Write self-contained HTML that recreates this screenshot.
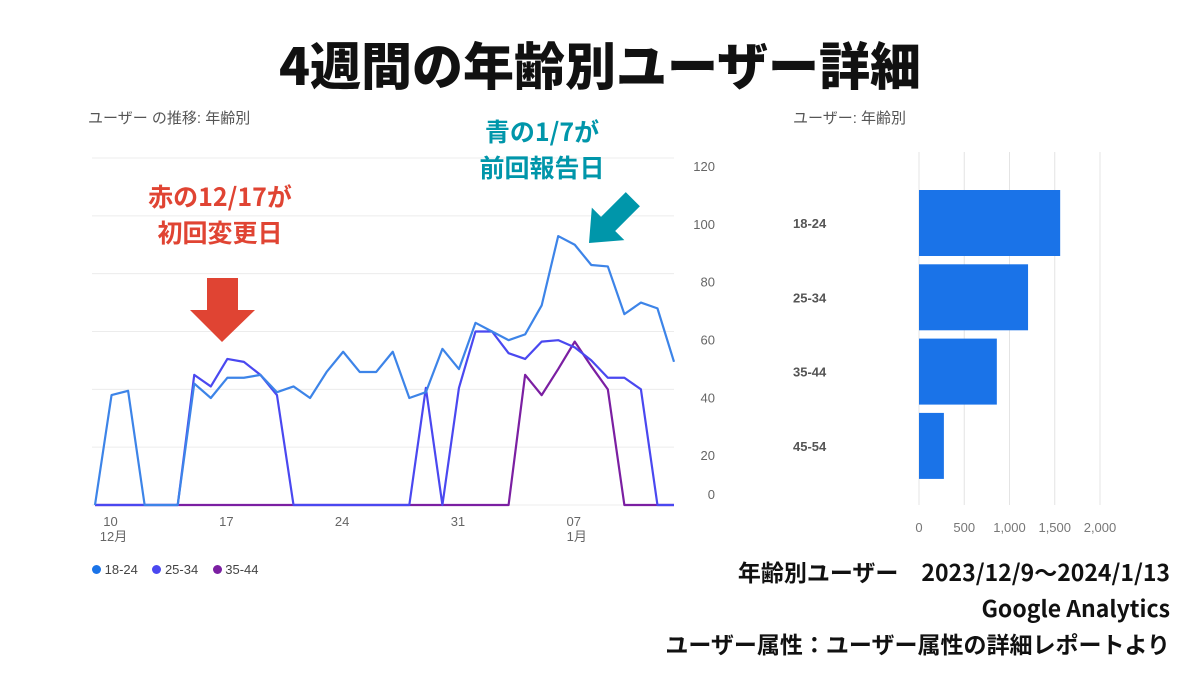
<!DOCTYPE html>
<html><head><meta charset="utf-8"><style>
body{margin:0;width:1200px;height:675px;background:#fff;overflow:hidden;font-family:"Liberation Sans","Noto Sans CJK JP",sans-serif;position:relative}
.t{position:absolute;white-space:nowrap}
</style></head><body>
<div class="t" style="left:0;width:1200px;text-align:center;top:30px;font-size:51px;font-weight:900;font-family:'Noto Sans CJK JP',sans-serif;color:#111;line-height:66px">4週間の年齢別ユーザー詳細</div>
<div class="t" style="left:88px;top:107px;font-size:15px;color:#555">ユーザー の推移: 年齢別</div>
<div class="t" style="left:793px;top:107px;font-size:15px;color:#555">ユーザー: 年齢別</div>
<svg id="svg" width="1200" height="675" style="position:absolute;left:0;top:0">
<g id="lc"></g><g id="bc"></g>
<polygon points="207,278 238,278 238,310 255,310 222,342 190,310 207,310" fill="#e04433"/>
<polygon points="-10,-62 10,-62 10,-27 23,-27 0,0 -23,-27 -10,-27" fill="#0096aa" transform="translate(589,243) rotate(45)"/>
</svg>
<div class="t" style="left:130px;top:178px;width:180px;text-align:center;font-size:25px;font-weight:bold;font-family:'Noto Sans CJK JP',sans-serif;color:#e04433;line-height:36px">赤の12/17が<br>初回変更日</div>
<div class="t" style="left:452px;top:113px;width:180px;text-align:center;font-size:25px;font-weight:bold;font-family:'Noto Sans CJK JP',sans-serif;color:#0096aa;line-height:36px">青の1/7が<br>前回報告日</div>
<div class="t" style="left:92px;top:562px;font-size:13px;color:#444">
<span><span style="display:inline-block;width:9px;height:9px;border-radius:50%;background:#1a73e8"></span> 18-24</span>&nbsp;&nbsp;&nbsp;
<span><span style="display:inline-block;width:9px;height:9px;border-radius:50%;background:#4a48f0"></span> 25-34</span>&nbsp;&nbsp;&nbsp;
<span><span style="display:inline-block;width:9px;height:9px;border-radius:50%;background:#7b1fa2"></span> 35-44</span></div>
<div class="t" style="right:30px;top:553px;text-align:right;font-size:23px;font-weight:bold;font-family:'Noto Sans CJK JP',sans-serif;color:#111;line-height:36px">年齢別ユーザー　2023/12/9～2024/1/13<br>Google Analytics<br>ユーザー属性：ユーザー属性の詳細レポートより</div>
<script>
const s1824=[0,38,39.5,0,0,0,42,37,44,44,45,39,41,37,46,53,46,46,53,37,39,54,47,63,60,57,59,69,93,90,83,82.5,66,70,68,49.5];
const s2534=[0,0,0,0,0,0,45,41,50.5,49.5,45,38,0,0,0,0,0,0,0,0,40.5,0,40.5,60,60,52.5,50.5,56.5,57,54.5,50,44,44,40,0,0];
const s3544=[0,0,0,0,0,0,0,0,0,0,0,0,0,0,0,0,0,0,0,0,0,0,0,0,0,0,45,38,47,56.5,48,40,0,0,0,0];
const yTicks=[0,20,40,60,80,100,120];
const xTickIdx=[1,8,15,22,29];
const xTickLabels=["10","17","24","31","07"];
const xTickSub=["12月","","","","1月"];
const barCats=["18-24","25-34","35-44","45-54"];
const barVals=[1560,1205,860,275];
const barTicks=[0,500,1000,1500,2000];
const NS="http://www.w3.org/2000/svg";
function mk(p,t,a){const e=document.createElementNS(NS,t);for(const k in a)e.setAttribute(k,a[k]);p.appendChild(e);return e;}
const lc=document.getElementById('lc'),bc=document.getElementById('bc');
const X=i=>95+i*(674-95)/35, Y=v=>505-v*(505-158)/120;
yTicks.forEach(v=>{
const l=mk(lc,'line',{x1:92,x2:674,y1:Y(v),y2:Y(v),stroke:'#ececec','stroke-width':1});


const t=mk(lc,'text',{x:715,y:v===0?Y(v)-6:Y(v)+13,'text-anchor':'end','font-size':13,fill:'#666'});
t.textContent=v;


});
xTickIdx.forEach((ix,k)=>{
const t=mk(lc,'text',{x:X(ix)-1,y:526,'font-size':13,fill:'#666','text-anchor':'middle'});
t.textContent=xTickLabels[k];


if(xTickSub[k]){const u=mk(lc,'text',{x:X(ix)+2,y:541,'font-size':13,fill:'#666','text-anchor':'middle'});u.textContent=xTickSub[k];

}
});
[[s3544,'#7b1fa2','line-35-44'],[s2534,'#4a48f0','line-25-34'],[s1824,'#3d84e8','line-18-24']].forEach(([d,c,n])=>{
const p=mk(lc,'polyline',{points:d.map((v,i)=>X(i)+','+Y(v)).join(' '),fill:'none',stroke:c,'stroke-width':2.2,'stroke-linejoin':'round'});


});
const BX=v=>919+v*(1100-919)/2000;
barTicks.forEach(v=>{
const l=mk(bc,'line',{x1:BX(v),x2:BX(v),y1:152,y2:505,stroke:'#e4e4e4','stroke-width':1});


const t=mk(bc,'text',{x:BX(v),y:532,'text-anchor':'middle','font-size':13,fill:'#777'});
t.textContent=v.toLocaleString('en-US');


});
barCats.forEach((c,i)=>{
const y0=190+i*74.3;
const r=mk(bc,'rect',{x:BX(0),y:y0,width:BX(barVals[i])-BX(0),height:66,fill:'#1a73e8'});


const t=mk(bc,'text',{x:793,y:y0+38,'font-size':13,'font-weight':'bold',fill:'#555'});
t.textContent=c;


});
</script>
</body></html>
